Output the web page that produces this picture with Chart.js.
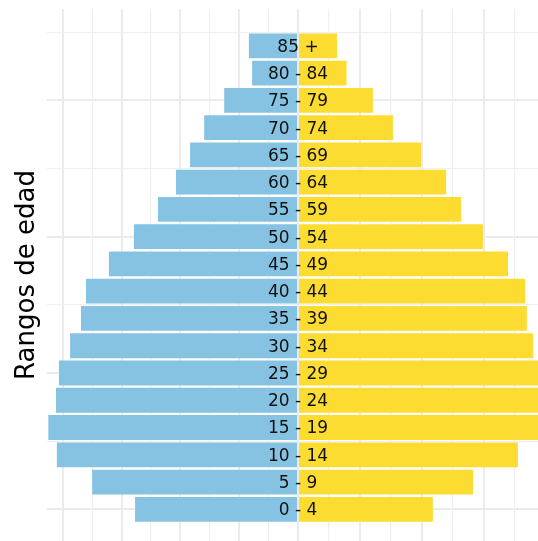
<!DOCTYPE html>
<html>
<head>
<meta charset="utf-8">
<script src="https://cdn.jsdelivr.net/npm/chart.js@4"></script>
<style>
  html, body { margin: 0; padding: 0; background: #fff; overflow: hidden; }
  #wrap { width: 538px; height: 541px; }
</style>
</head>
<body>
<div id="wrap"><canvas id="pyramid"></canvas></div>
<script>
// age groups (start of each band) and their labels
const ageStarts = [0, 5, 10, 15, 20, 25, 30, 35, 40, 45, 50, 55, 60, 65, 70, 75, 80, 85];
const ageLabels = ['0 - 4', '5 - 9', '10 - 14', '15 - 19', '20 - 24', '25 - 29', '30 - 34', '35 - 39',
    '40 - 44', '45 - 49', '50 - 54', '55 - 59', '60 - 64', '65 - 69', '70 - 74', '75 - 79', '80 - 84', '85 +'];

// left (blue) and right (yellow) bars, in grid units of each half
const blueValues = [5.54, 7.00, 8.20, 8.49, 8.23, 8.13, 7.75, 7.38, 7.21, 6.43, 5.58, 4.76, 4.15, 3.67, 3.19, 2.51, 1.56, 1.67];
const yellowValues = [4.36, 5.66, 7.11, 8.08, 7.99, 7.89, 7.60, 7.40, 7.34, 6.79, 5.98, 5.27, 4.79, 3.98, 3.07, 2.42, 1.57, 1.26];

// grid breaks (no labels shown in the picture)
const ageGridTicks = [0, 12.5, 25, 37.5, 50, 62.5, 75, 87.5];
const leftGridTicks = [0, 1, 2, 3, 4, 5, 6, 7, 8];
const rightGridTicks = [0, 1, 2, 3, 4, 5, 6, 7];

const blueColor = '#86C3E3';
const yellowColor = '#FDDC32';

function gridStyle(isMajor) {
    return {
        color: (c) => isMajor(c.tick && c.tick.value) ? '#EBEBEB' : '#EFEFEF',
        lineWidth: (c) => isMajor(c.tick && c.tick.value) ? 2 : 1.2,
        drawTicks: false,
        offset: false,
    };
}

// draws the age band text on the middle line
const centerLabels = {
    id: 'centerLabels',
    afterDatasetsDraw(chart) {
        const ctx = chart.ctx;
        const yScale = chart.scales.y;
        const x = chart.scales.xr.getPixelForValue(0);
        ctx.save();
        ctx.font = '17px "DejaVu Sans"';
        ctx.fillStyle = '#111111';
        ctx.textAlign = 'center';
        ctx.textBaseline = 'middle';
        ageStarts.forEach((age, i) => {
            ctx.fillText(ageLabels[i], x, yScale.getPixelForValue(age) + 1.5);
        });
        ctx.restore();
    }
};

const ctx = document.getElementById('pyramid').getContext('2d');
new Chart(ctx, {
    type: 'bar',
    data: {
        datasets: [
            {
                label: 'izquierda',
                data: blueValues.map((v, i) => ({ x: v, y: ageStarts[i] })),
                backgroundColor: blueColor,
                xAxisID: 'xl',
                yAxisID: 'y',
                grouped: false,
                categoryPercentage: 0.91,
                barPercentage: 1.0,
            },
            {
                label: 'derecha',
                data: yellowValues.map((v, i) => ({ x: v, y: ageStarts[i] })),
                backgroundColor: yellowColor,
                xAxisID: 'xr',
                yAxisID: 'y',
                grouped: false,
                categoryPercentage: 0.91,
                barPercentage: 1.0,
            },
        ],
    },
    options: {
        indexAxis: 'y',
        responsive: true,
        maintainAspectRatio: false,
        animation: false,
        layout: { padding: { top: 9, left: 0, right: 0, bottom: 0 } },
        plugins: {
            legend: { display: false },
            tooltip: { enabled: false },
        },
        scales: {
            y: {
                type: 'linear',
                position: 'left',
                min: -5.81,
                max: 91.75,
                offset: false,
                afterBuildTicks: (scale) => { scale.ticks = ageGridTicks.map(v => ({ value: v })); },
                afterFit: (scale) => { scale.width = 47; },
                ticks: { display: false },
                border: { display: false },
                grid: gridStyle(v => v % 25 === 0),
                title: {
                    display: true,
                    text: 'Rangos de edad',
                    color: '#000000',
                    font: { family: 'DejaVu Sans', size: 26 },
                    padding: { top: 12, bottom: 0 },
                },
            },
            xl: {
                type: 'linear',
                position: 'bottom',
                stack: 'pyr',
                stackWeight: 251,
                reverse: true,
                min: 0,
                max: 8.535,
                afterBuildTicks: (scale) => { scale.ticks = leftGridTicks.map(v => ({ value: v })); },
                ticks: { display: false },
                border: { display: false },
                grid: gridStyle(v => v % 2 === 0),
            },
            xr: {
                type: 'linear',
                position: 'bottom',
                stack: 'pyr',
                stackWeight: 240,
                min: 0,
                max: 7.76,
                afterBuildTicks: (scale) => { scale.ticks = rightGridTicks.map(v => ({ value: v })); },
                ticks: { display: false },
                border: { display: false },
                grid: gridStyle(v => v % 2 === 0),
            },
        },
    },
    plugins: [centerLabels],
});
</script>
</body>
</html>
